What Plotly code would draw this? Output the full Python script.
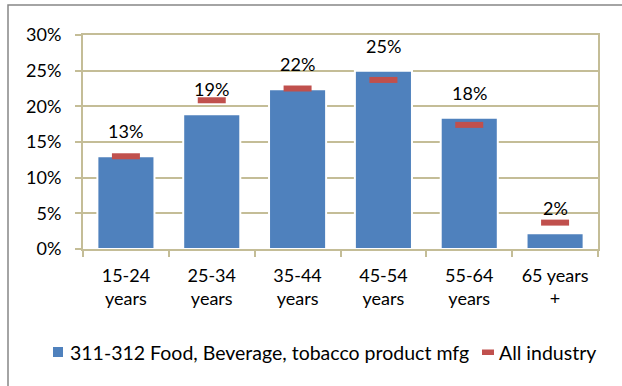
import plotly.graph_objects as go

# Age groups and shares of employment
age_groups = ["15-24<br>years", "25-34<br>years", "35-44<br>years",
              "45-54<br>years", "55-64<br>years", "65 years<br>+"]
food_bev_share = [0.13, 0.189, 0.224, 0.25, 0.184, 0.022]
all_industry_share = [0.13, 0.2085, 0.225, 0.237, 0.174, 0.037]
y_ticks = [0, 0.05, 0.10, 0.15, 0.20, 0.25, 0.30]
series_names = ["311-312 Food, Beverage, tobacco product mfg", "All industry"]

BLUE = "#4F81BD"
RED = "#C0504D"
TAN = "#C4BD97"
FONT = "Lato"

W, H = 622, 386
M_L, M_R, M_T, M_B = 83, 24, 35, 137
PW, PH = W - M_L - M_R, H - M_T - M_B


def px_x(px):
    return (px - M_L) / PW


def px_y(py):
    return (H - M_B - py) / PH


fig = go.Figure()

fig.add_trace(go.Bar(
    x=age_groups,
    y=food_bev_share,
    name=series_names[0],
    marker=dict(color=BLUE, line=dict(color="white", width=2)),
    width=0.665,
    showlegend=False,
))

fig.add_trace(go.Scatter(
    x=age_groups,
    y=all_industry_share,
    name=series_names[1],
    mode="markers",
    marker=dict(symbol="line-ew", size=20, color=RED,
                line=dict(color=RED, width=6)),
    showlegend=False,
))

# Value labels above each bar
for cat, val in zip(age_groups, food_bev_share):
    fig.add_annotation(
        x=cat, y=val, text=f"{val:.0%}", showarrow=False,
        yanchor="middle", yshift=25,
        font=dict(family=FONT, size=18, color="black"),
    )

# Outer chart frame
fig.add_shape(
    type="rect", xref="paper", yref="paper",
    x0=px_x(8), x1=2, y0=-2, y1=px_y(5),
    line=dict(color="#868686", width=1.5),
)

# Legend row: swatch + label for each series
legend_y = 352
fig.add_shape(type="rect", xref="paper", yref="paper",
              x0=px_x(53), x1=px_x(63), y0=px_y(357), y1=px_y(347),
              fillcolor=BLUE, line=dict(width=0))
fig.add_annotation(xref="paper", yref="paper", x=px_x(68), y=px_y(legend_y),
                   xanchor="left", yanchor="middle", showarrow=False,
                   text=series_names[0],
                   font=dict(family=FONT, size=19.5, color="black"))
fig.add_shape(type="rect", xref="paper", yref="paper",
              x0=px_x(482), x1=px_x(494), y0=px_y(355), y1=px_y(349.5),
              fillcolor=RED, line=dict(width=0))
fig.add_annotation(xref="paper", yref="paper", x=px_x(497), y=px_y(legend_y),
                   xanchor="left", yanchor="middle", showarrow=False,
                   text=series_names[1],
                   font=dict(family=FONT, size=19.5, color="black"))

fig.update_layout(
    width=W, height=H,
    margin=dict(l=M_L, r=M_R, t=M_T, b=M_B),
    paper_bgcolor="white", plot_bgcolor="white",
    font=dict(family=FONT, size=18, color="black"),
    bargap=0.335,
    showlegend=False,
    xaxis=dict(
        showline=True, linecolor=TAN, linewidth=2, mirror=True,
        ticks="outside", tickson="boundaries", ticklen=6,
        tickcolor=TAN, tickwidth=2, ticklabelstandoff=9,
        showgrid=False, fixedrange=True,
    ),
    yaxis=dict(
        range=[0, 0.30], tickvals=y_ticks, tickformat=".0%",
        showline=True, linecolor=TAN, linewidth=2, mirror=True,
        ticks="outside", ticklen=6, tickcolor=TAN, tickwidth=2,
        showgrid=True, gridcolor=TAN, gridwidth=2,
        zeroline=False, ticklabelstandoff=10, fixedrange=True,
    ),
)

fig.write_html("out.html")
